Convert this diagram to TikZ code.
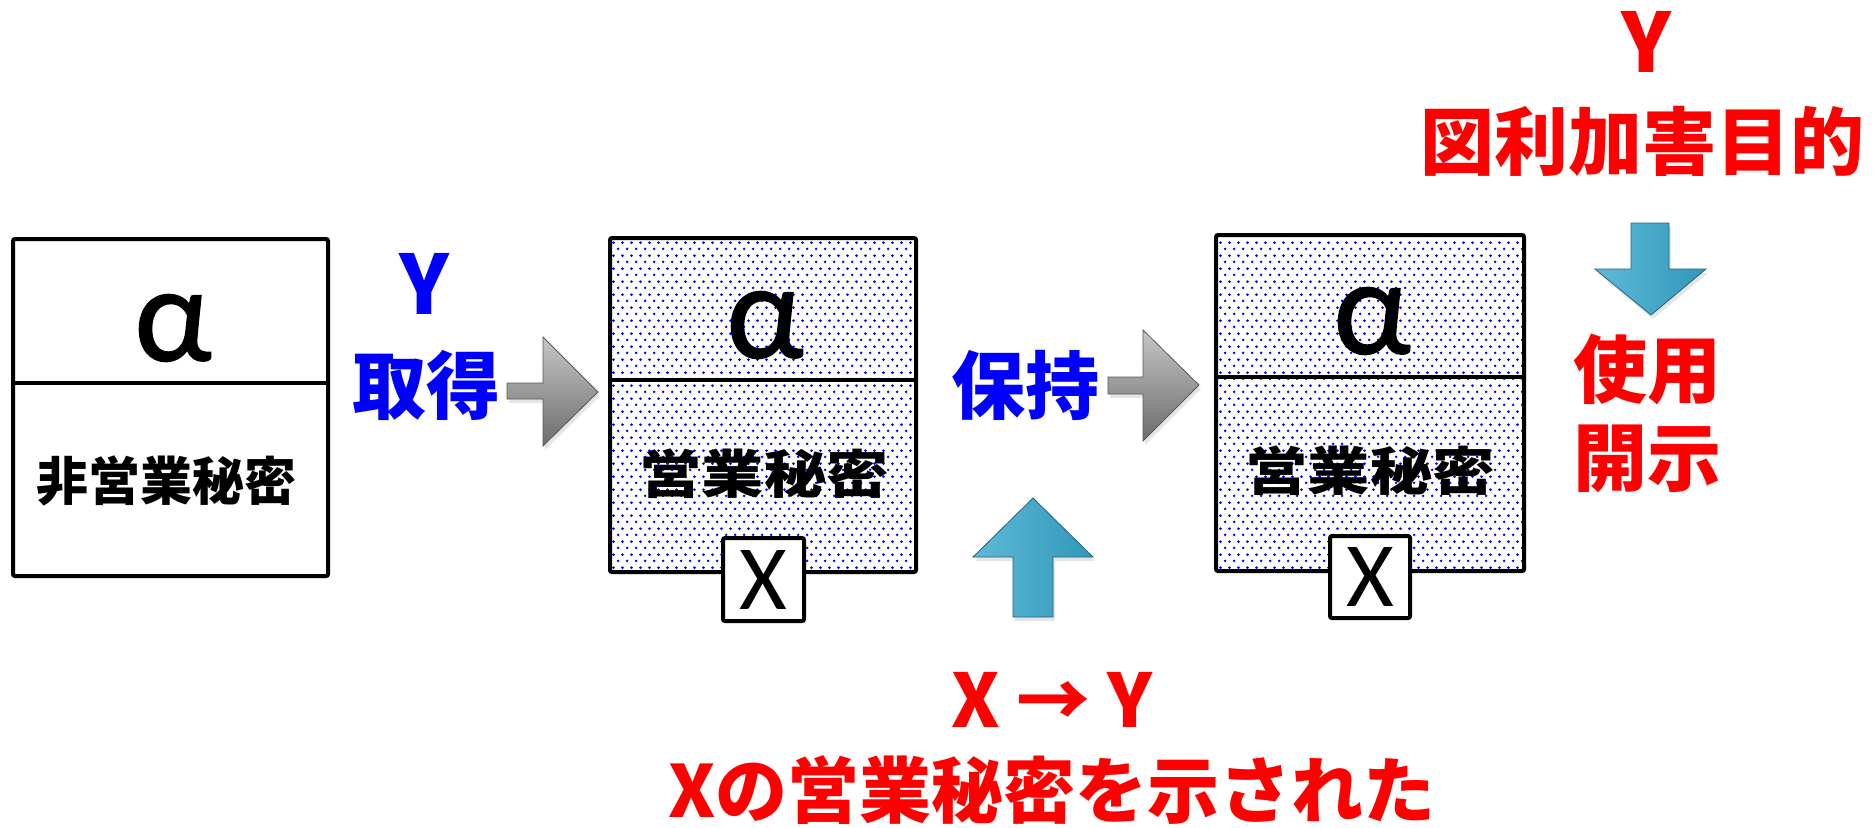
\documentclass[tikz,border=0pt]{standalone}
\usepackage{fontspec}
\newfontfamily\cjk{Noto Sans CJK JP}
\newfontfamily\lat{Carlito}
\newfontfamily\latb{Carlito}[FakeBold=1.2]
\usetikzlibrary{patterns,shadows}
\pgfdeclarepatternformonly{bluedots}{\pgfqpoint{0pt}{0pt}}{\pgfqpoint{4.4pt}{6.6pt}}{\pgfqpoint{4.4pt}{6.6pt}}{%
  \pgfpathcircle{\pgfqpoint{1.1pt}{1.65pt}}{0.75pt}%
  \pgfpathcircle{\pgfqpoint{3.3pt}{4.95pt}}{0.75pt}%
  \pgfusepath{fill}}
\definecolor{pblue}{RGB}{0,0,255}
\definecolor{pred}{RGB}{255,0,0}
\definecolor{abl}{RGB}{55,168,206}
\begin{document}
\begin{tikzpicture}[x=0.5pt,y=-0.5pt,
  box/.style={draw=black, line width=2pt, rounded corners=1pt, inner sep=0pt},
  dotbox/.style={box, pattern=bluedots, pattern color=pblue},
  xbox/.style={box, fill=white},
  divline/.style={line width=2pt},
  alpha/.style={inner sep=0pt, font=\latb\fontsize{68}{70}\selectfont},
  xlab/.style={inner sep=0pt, font=\lat\fontsize{46}{48}\selectfont},
  boxtxt/.style={inner sep=0pt, font=\cjk\bfseries\fontsize{26}{28}\selectfont},
  bluetxt/.style={inner sep=0pt, text=pblue, font=\cjk\bfseries\fontsize{37}{40}\selectfont},
  redtxt/.style={inner sep=0pt, text=pred, font=\cjk\bfseries\fontsize{37}{40}\selectfont},
  bigY/.style={font=\cjk\bfseries\fontsize{41}{44}\selectfont},
  grayarrow/.style={top color=gray!45, bottom color=gray!85!black, draw=gray!70!black, line width=0.4pt,
    drop shadow={opacity=0.2, shadow xshift=1pt, shadow yshift=-2pt}},
  bluearrow/.style={left color=abl!80!white, right color=abl!90!black, draw=abl!60!black, line width=0.4pt,
    drop shadow={opacity=0.2, shadow xshift=1pt, shadow yshift=-2pt}}
]
\fill[white] (0,0) rectangle (1875,827);
\useasboundingbox (0,0) rectangle (1875,827);

% boxes
\node[box, minimum width=157.5pt, minimum height=168.5pt] (b1) at (170.5,407.5) {};
\node[dotbox, minimum width=153pt, minimum height=167pt] (b2) at (763,405) {};
\node[dotbox, minimum width=154pt, minimum height=168pt] (b3) at (1370,403) {};

\coordinate (d1) at (0,383);
\coordinate (d2) at (0,380);
\coordinate (d3) at (0,377);
\draw[divline] (b1.west |- d1) -- (b1.east |- d1);
\draw[divline] (b2.west |- d2) -- (b2.east |- d2);
\draw[divline] (b3.west |- d3) -- (b3.east |- d3);

\node[xbox, minimum width=40.5pt, minimum height=41.5pt] (x2) at (763.5,579.5) {};
\node[xbox, minimum width=40pt, minimum height=41pt] (x3) at (1370,577) {};
\node[xlab] (x2l) at (x2) {X};
\node[xlab] (x3l) at (x3) {X};

\node[alpha] (a1) at (173,328) {α};
\node[alpha] (a2) at (765,325) {α};
\node[alpha] (a3) at (1372,321) {α};

\node[boxtxt] (t1) at (166,481) {非営業秘密};
\node[boxtxt] (t2) at (764,474) {\scalebox{1.2}[1]{営業秘密}};
\node[boxtxt] (t3) at (1370,471) {\scalebox{1.2}[1]{営業秘密}};

% gray arrows
\path[grayarrow] (507,383) -- (543,383) -- (543,337) -- (598,392) -- (543,446) -- (543,399) -- (507,399) -- cycle;
\path[grayarrow] (1108,377) -- (1143,377) -- (1143,330) -- (1199,385) -- (1143,441) -- (1143,394) -- (1108,394) -- cycle;

% blue arrows
\path[bluearrow] (1013,617) -- (1013,557) -- (973,557) -- (1033,498) -- (1093,557) -- (1053,557) -- (1053,617) -- cycle;
\path[bluearrow] (1631,223) -- (1669,223) -- (1669,269) -- (1706,269) -- (1651,315) -- (1595,269) -- (1631,269) -- cycle;

% labels
\node[bluetxt, bigY] (ya) at (424,284) {Y};
\node[bluetxt] (acq) at (426,385) {取得};
\node[bluetxt] (hold) at (1025,385) {保持};
\node[redtxt, bigY] (yb) at (1646,42) {Y};
\node[redtxt] (purp) at (1642,141) {図利加害目的};
\node[redtxt] (use) at (1647,369) {使用};
\node[redtxt] (disc) at (1647,459) {開示};
\node[redtxt] (xy) at (1052,700) {X → Y};
\node[redtxt, font=\cjk\bfseries\fontsize{36}{40}\selectfont] (shown) at (1052,790) {Xの営業秘密を示された};
\end{tikzpicture}
\end{document}
